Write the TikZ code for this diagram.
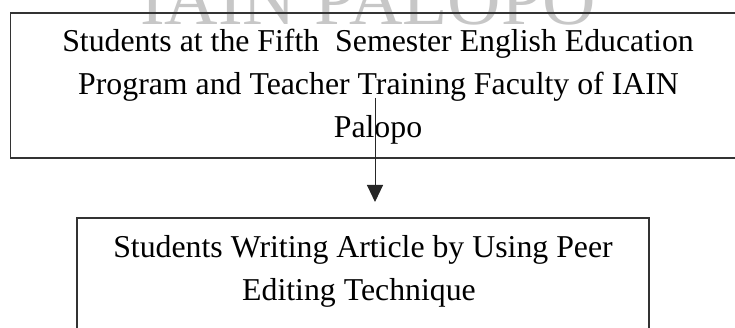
\documentclass[tikz,border=0pt]{standalone}
\usepackage{fontspec}
\setmainfont{Liberation Serif}
\usetikzlibrary{arrows.meta}
\begin{document}
\begin{tikzpicture}[x=1pt,y=-1pt,
  boxline/.style={draw=black!80,line width=1.2pt,rectangle,inner sep=0pt},
  txt/.style={font=\fontsize{31.8}{43}\selectfont,anchor=base,inner sep=0pt},
  wm/.style={font=\fontsize{74}{74}\selectfont,text=black!22,anchor=base west,inner sep=0pt}]
\useasboundingbox (0,0) rectangle (735,328);
\node[wm] (wm) at (140,25) {IAIN PALOPO};
\node[boxline,minimum width=734.3pt,minimum height=145pt] (topbox) at (377.85,85.5) {};
\node[boxline,minimum width=572pt,minimum height=150pt] (botbox) at (363,293) {};
\node[txt] (t1) at (378,52) {Students at the Fifth\ \ Semester English Education};
\node[txt] (t2) at (378.5,95) {Program and Teacher Training Faculty of IAIN};
\node[txt] (t3) at (378,138) {Palopo};
\node[txt] (b1) at (363,258) {Students Writing Article by Using Peer};
\node[txt] (b2) at (359,300) {Editing Technique};
\coordinate (s) at (375,98);
\coordinate (e) at (375,202);
\draw[-{Triangle[width=16pt,length=17pt]},line width=1pt,black!85] (s) -- (e);
\end{tikzpicture}
\end{document}
